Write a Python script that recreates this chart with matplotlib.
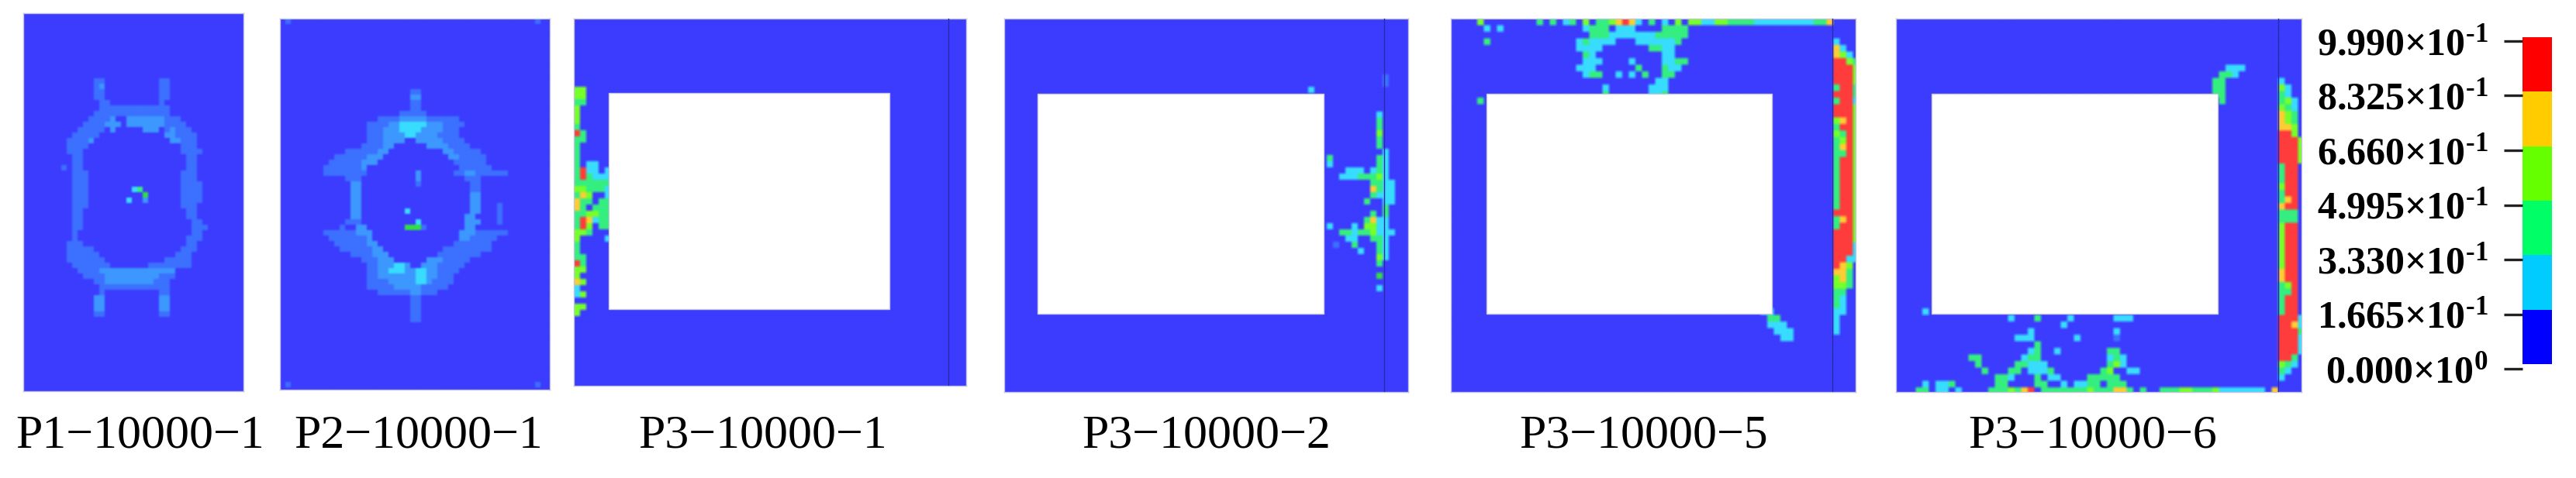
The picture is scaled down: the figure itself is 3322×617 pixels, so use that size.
import numpy as np
import matplotlib
matplotlib.use("Agg")
import matplotlib.pyplot as plt
from matplotlib.colors import ListedColormap, BoundaryNorm
from matplotlib.patches import Rectangle

plt.rcParams['font.family'] = ['Liberation Serif', 'DejaVu Serif']
plt.rcParams['mathtext.fontset'] = 'custom'
plt.rcParams['mathtext.rm'] = 'Liberation Serif:bold'
plt.rcParams['mathtext.it'] = 'Liberation Serif:bold'
plt.rcParams['mathtext.bf'] = 'Liberation Serif:bold'

# ---------- data ----------
F, P, C, G, L, O, R, D = 1, 2, 3, 4, 5, 6, 7, 8   # damage classes

panel_names = ['P1\u221210000\u22121', 'P2\u221210000\u22121', 'P3\u221210000\u22121',
               'P3\u221210000\u22122', 'P3\u221210000\u22125', 'P3\u221210000\u22126']

cbar_levels = [0.0, 0.1665, 0.333, 0.4995, 0.666, 0.8325, 0.999]
cbar_labels = [r'0.000×10$^{\text{0}}$', r'1.665×10$^{\text{-1}}$', r'3.330×10$^{\text{-1}}$',
               r'4.995×10$^{\text{-1}}$', r'6.660×10$^{\text{-1}}$', r'8.325×10$^{\text{-1}}$',
               r'9.990×10$^{\text{-1}}$']

# each run: (row, first column, last column, class)
p1_cells = [
    (12,13,14,F),(13,13,14,F),(13,14,14,P),(14,13,14,F),(15,13,14,F),(16,14,15,F),(17,14,15,F),
    (12,25,26,F),(13,25,26,F),(14,25,26,F),(15,25,26,F),(16,25,25,F),(17,14,26,F),
    (18,13,26,F),(19,12,15,F),(19,16,16,P),(19,19,25,P),(19,26,28,F),
    (20,11,14,F),(20,15,17,P),(20,19,25,P),(20,26,29,F),
    (21,10,14,F),(21,16,16,P),(21,22,24,P),(21,26,30,F),(21,27,27,P),
    (22,9,13,F),(22,26,27,P),(22,28,31,F),(23,8,11,F),(23,12,12,P),(23,27,28,P),(23,29,31,F),
    (24,8,11,F),(24,29,31,F),(25,8,10,F),(25,29,32,F),(26,9,10,F),(26,30,31,F),(27,9,10,F),(27,30,31,F),
    (28,7,7,F),(28,9,10,F),(28,30,31,F),(29,9,11,F),(29,29,31,F),(30,9,11,F),(30,29,31,F),
    (31,9,11,F),(31,29,32,F),(32,9,11,F),(32,29,32,F),(33,9,11,F),(33,29,32,F),(34,9,11,F),(34,29,32,F),
    (35,9,11,F),(35,29,31,F),(36,9,10,F),(36,30,31,F),(37,9,10,F),(37,30,31,F),(38,9,10,F),(38,31,32,F),
    (39,9,10,F),(39,31,33,F),(40,9,9,F),(40,31,32,F),(41,9,9,F),(41,30,31,F),(41,32,32,F),
    (42,8,10,F),(42,30,31,F),(43,8,12,F),(43,29,31,F),(44,8,13,F),(44,28,30,F),(45,8,14,F),(45,26,30,F),
    (46,9,15,F),(46,23,30,F),(47,10,13,F),(47,14,27,P),(48,11,14,F),(48,15,24,P),(48,25,27,F),
    (49,13,14,F),(49,15,23,P),(49,24,26,F),(50,14,26,F),
    (51,14,14,F),(51,25,26,F),(52,13,14,P),(52,25,26,P),(53,13,14,P),(53,25,26,P),(54,13,14,P),(54,25,26,P),(55,13,14,F),(55,25,26,F),
    (32,20,20,C),(32,21,21,G),(33,22,22,D),(34,22,22,P),(34,19,19,C),
]
p2_cells = [
    (0,1,1,F),(0,47,47,F),(67,1,1,F),(67,47,47,F),
    (13,24,25,F),(14,24,25,P),(15,24,25,F),(16,24,25,F),
    (17,22,26,F),(18,18,21,F),(18,22,26,P),(18,27,32,F),
    (19,16,19,F),(19,20,21,P),(19,22,26,C),(19,27,29,P),(19,30,33,F),
    (20,16,18,F),(20,19,21,P),(20,22,25,C),(20,26,29,P),(20,30,32,F),
    (21,16,18,F),(21,19,22,P),(21,23,24,C),(21,25,28,P),(21,29,32,F),
    (22,16,18,F),(22,19,22,P),(22,25,29,P),(22,30,33,F),
    (23,15,18,F),(23,19,20,P),(23,27,30,P),(23,31,34,F),
    (24,12,17,F),(24,18,19,P),(24,30,31,P),(24,32,36,F),
    (25,10,15,F),(25,16,18,P),(25,31,32,P),(25,33,37,F),
    (26,9,14,F),(26,15,17,P),(26,32,37,F),
    (27,8,14,F),(27,15,15,P),(27,33,38,F),
    (28,8,15,F),(28,32,33,F),(28,34,35,P),(28,36,41,F),
    (29,12,14,F),(29,34,36,F),(30,13,14,P),(30,35,36,F),(31,13,14,P),(31,35,36,F),
    (32,13,14,P),(32,35,36,P),(33,13,14,P),(33,35,36,P),(34,13,14,P),(34,35,36,P),(34,40,40,F),
    (35,13,14,P),(35,35,36,P),(35,40,40,F),(36,13,14,P),(36,34,35,P),(36,40,40,F),
    (37,12,14,F),(37,34,36,P),(37,40,40,F),(38,11,11,F),(38,14,15,P),(38,34,35,P),
    (39,8,13,F),(39,14,16,P),(39,33,35,P),(39,36,41,F),
    (40,9,15,F),(40,16,16,P),(40,33,34,P),(40,35,39,F),
    (41,10,15,F),(41,16,17,P),(41,32,38,F),
    (42,11,16,F),(42,17,18,P),(42,30,38,F),
    (43,13,16,F),(43,17,19,P),(43,29,36,F),
    (44,15,17,F),(44,18,20,P),(44,27,29,P),(44,30,34,F),
    (45,16,17,F),(45,18,20,P),(45,21,22,C),(45,23,23,P),(45,26,28,P),(45,29,33,F),
    (46,16,17,F),(46,18,19,P),(46,20,22,C),(46,23,24,P),(46,25,26,C),(46,27,28,P),(46,29,32,F),
    (47,16,17,F),(47,18,24,P),(47,25,26,C),(47,27,28,P),(47,29,31,F),
    (48,16,19,F),(48,20,24,P),(48,25,26,C),(48,27,27,P),(48,28,31,F),
    (49,16,20,F),(49,21,25,P),(49,26,30,F),
    (50,18,23,F),(50,24,25,P),(50,26,28,F),
    (51,24,25,F),(52,24,25,F),(53,24,25,F),(54,24,25,F),(55,24,25,F),
    (28,25,25,P),(29,25,25,P),(30,25,25,F),(35,23,23,C),(37,25,25,C),(38,23,24,D),(38,26,26,F),(38,25,25,D),
]
p31_cells = [
    (11,0,1,L),(12,0,1,L),(13,0,1,G),(14,0,0,L),(15,0,0,L),(16,0,0,L),(17,0,0,G),(18,0,0,R),(18,1,1,G),(19,0,1,G),
    (20,0,0,G),(21,0,0,G),(22,0,0,G),(23,0,0,G),(23,2,3,C),(24,0,0,G),(24,1,1,R),(24,2,3,C),(24,5,5,C),
    (25,0,0,G),(25,1,1,R),(25,2,2,G),(25,3,3,C),(25,4,5,C),(26,0,3,G),(26,4,5,G),(27,0,1,L),(27,2,4,G),(27,5,5,C),
    (28,0,0,G),(28,1,1,O),(28,2,2,L),(28,5,5,C),(29,0,0,O),(29,1,2,G),(29,4,5,G),(30,0,0,O),(30,1,1,G),(30,3,5,G),
    (31,0,1,G),(31,2,3,L),(31,4,5,G),(32,0,0,G),(32,1,1,R),(32,2,2,O),(32,3,3,C),(32,4,5,G),
    (33,0,0,G),(33,1,1,R),(33,2,2,L),(33,4,5,G),(34,0,1,L),(34,2,2,G),(35,0,0,L),(35,5,5,C),
    (36,0,0,G),(37,0,0,G),(38,0,1,G),(39,0,0,R),(39,1,1,G),(40,0,1,L),(41,0,0,L),(42,0,0,O),(42,1,1,L),
    (43,0,0,C),(44,0,0,C),(44,1,1,L),(46,0,1,L),(47,0,0,L),
]
p32_cells = [
    (9,61,61,F),(10,61,61,F),(11,49,49,C),
    (15,60,60,C),(16,60,60,G),(17,60,60,G),(18,60,60,L),(19,60,60,G),(20,60,60,G),
    (21,61,61,C),(22,52,52,G),(22,60,60,G),(22,61,61,C),(23,52,52,C),(23,60,60,G),(23,61,61,C),
    (24,55,57,C),(24,59,59,C),(24,60,60,G),(24,61,61,C),
    (25,54,56,C),(25,57,58,G),(25,59,59,G),(25,60,60,L),(25,61,61,C),
    (26,59,59,G),(26,60,60,G),(26,61,62,C),(27,59,59,O),(27,60,60,G),(27,61,62,C),
    (28,59,59,G),(28,60,60,C),(28,61,62,C),(29,58,58,G),(29,61,62,C),(30,61,61,G),
    (31,59,59,G),(31,61,61,G),(32,58,58,G),(32,59,59,O),(32,60,60,C),(32,61,61,C),
    (33,52,52,C),(33,56,56,C),(33,58,59,L),(33,60,60,C),(33,61,61,C),
    (34,54,55,G),(34,56,56,C),(34,57,58,G),(34,59,59,L),(34,60,60,C),(34,61,62,C),
    (35,55,56,C),(35,59,60,G),(35,61,61,C),(36,53,53,F),(36,56,56,G),(36,60,60,G),(36,61,61,C),
    (37,57,57,C),(37,60,60,G),(37,61,61,C),(38,60,60,L),(38,61,61,C),(39,60,60,G),(41,60,60,D),(43,60,60,C),
]
p35_cells = [
    (0,4,4,L),(0,13,13,G),(0,15,15,G),(0,17,17,C),(0,18,18,G),(0,20,20,L),(0,22,23,G),(0,24,24,L),(0,25,25,O),(0,26,26,R),(0,27,27,O),
    (0,28,28,C),(0,30,30,G),(0,32,32,C),(0,34,34,L),(0,36,37,L),(0,38,39,C),(0,40,41,L),(0,42,45,G),(0,46,51,C),(0,52,54,C),(0,55,56,G),(0,57,57,O),
    (1,5,5,C),(1,7,7,C),(1,20,20,C),(1,21,23,G),(1,25,27,C),(1,32,33,G),(1,34,35,G),
    (2,21,22,G),(2,23,23,G),(2,24,27,C),(2,28,30,C),(2,31,33,G),(2,34,35,G),
    (3,5,5,G),(3,19,19,C),(3,20,20,G),(3,21,24,C),(3,28,29,C),(3,30,33,C),(3,34,34,G),(3,58,58,C),
    (4,19,22,C),(4,30,31,G),(4,32,33,C),(4,58,58,O),(4,59,59,C),
    (5,20,20,G),(5,21,21,C),(5,32,33,C),(5,58,58,O),(5,59,59,L),(5,60,60,C),
    (6,20,22,C),(6,27,27,C),(6,32,33,C),(6,34,35,G),(6,58,59,R),(6,60,60,L),(6,61,61,G),
    (7,19,21,C),(7,28,28,G),(7,32,32,G),(7,33,34,C),(7,58,60,R),(7,61,61,L),
    (8,20,20,C),(8,21,22,G),(8,25,25,C),(8,27,27,C),(8,29,29,G),(8,32,33,G),(8,58,60,R),(8,61,61,L),
    (9,31,32,C),(9,58,58,R),(9,59,60,R),(9,61,61,L),
    (10,23,23,C),(10,30,32,C),(10,58,58,G),(10,59,60,R),(10,61,61,G),
    (11,23,23,G),(11,30,31,C),(11,32,32,G),(11,58,60,R),(11,61,61,G),
    (12,4,4,G),(12,58,58,G),(12,59,60,R),(12,61,61,C),
    (13,58,60,R),(13,61,61,L),(14,58,60,R),(14,61,61,L),
    (15,58,58,L),(15,59,59,O),(15,60,60,R),(15,61,61,L),(16,58,58,G),(16,59,60,R),(16,61,61,L),
    (17,58,58,L),(17,59,59,G),(17,60,60,R),(17,61,61,L),(18,58,58,G),(18,59,59,L),(18,60,60,R),(18,61,61,L),
    (19,58,58,G),(19,59,59,O),(19,60,60,R),(19,61,61,L),(20,58,58,G),(20,59,59,G),(20,60,60,R),(20,61,61,L),
    (21,58,58,G),(21,59,60,R),(21,61,61,L),(22,58,58,G),(22,59,60,R),(22,61,61,L),(23,58,58,G),(23,59,60,R),(23,61,61,L),
    (24,58,58,G),(24,59,60,R),(24,61,61,L),(25,58,58,G),(25,59,60,R),(25,61,61,L),(26,58,58,G),(26,59,60,R),(26,61,61,L),
    (27,58,58,G),(27,59,60,R),(27,61,61,L),(28,58,58,G),(28,59,60,R),(28,61,61,L),
    (29,58,60,R),(29,61,61,L),(30,58,58,G),(30,59,59,O),(30,60,60,R),(30,61,61,L),(31,58,58,G),(31,59,60,R),(31,61,61,L),
    (32,58,60,R),(32,61,61,L),(33,58,60,R),(33,61,61,L),(34,58,60,R),(34,61,61,C),(35,58,60,R),(35,61,61,C),
    (36,58,59,R),(36,60,60,C),(36,61,61,C),(37,58,58,R),(37,59,59,O),(37,60,60,L),(38,58,58,O),(38,59,59,O),(38,60,60,G),
    (39,58,58,L),(39,59,59,O),(39,60,60,G),(40,58,59,L),(40,60,60,G),(41,58,59,G),(42,58,58,G),(42,59,59,C),(43,58,58,G),(43,59,59,C),
    (44,47,48,C),(44,58,59,C),(45,48,49,G),(45,58,58,C),(46,48,50,C),(46,58,58,C),(47,49,51,C),(47,58,58,C),(48,50,51,C),
]
p36_cells = [
    (7,50,52,C),(8,49,50,G),(8,51,51,C),(9,48,49,G),(9,58,58,C),(10,48,49,G),(10,58,58,L),(10,59,59,C),
    (11,48,49,G),(11,58,58,G),(11,59,59,C),(12,49,49,G),(12,58,58,G),(12,59,59,L),(12,60,60,C),
    (13,58,58,L),(13,59,59,G),(13,60,60,C),(14,58,58,O),(14,59,59,L),(14,60,60,G),(15,58,58,O),(15,59,59,L),(15,60,60,G),
    (16,58,59,O),(16,60,60,L),(17,58,59,R),(17,60,60,L),
    (18,58,60,R),(18,61,61,L),(19,58,60,R),(19,61,61,L),(20,58,60,R),(20,61,61,L),(21,58,60,R),(21,61,61,L),
    (22,58,58,G),(22,59,60,R),(23,58,58,G),(23,59,60,R),(24,58,58,G),(24,59,60,R),(25,58,58,L),(25,59,60,R),(26,58,58,G),(26,59,60,R),
    (27,58,58,G),(27,59,59,O),(27,60,60,R),(28,58,58,O),(28,59,60,R),(29,58,60,G),(30,58,60,G),
    (31,58,58,L),(31,59,60,R),(32,58,58,L),(32,59,60,R),(33,58,58,L),(33,59,60,R),(34,58,58,L),(34,59,60,R),
    (35,58,58,L),(35,59,60,R),(36,58,58,L),(36,59,60,R),(37,58,58,L),(37,59,60,R),(38,58,58,O),(38,59,60,R),(39,58,58,O),(39,59,60,R),
    (40,58,58,G),(40,59,59,L),(40,60,60,R),(41,58,58,G),(41,59,59,G),(41,60,60,R),(42,58,58,G),(42,59,60,R),(43,58,58,G),(43,59,60,R),
    (44,4,4,C),(44,58,58,G),(44,59,60,R),
    (45,17,17,C),(45,21,21,G),(45,26,26,C),(45,33,35,C),(45,58,60,R),(45,61,61,C),
    (46,25,25,C),(46,58,59,R),(46,60,60,O),(46,61,61,C),
    (47,20,20,C),(47,33,33,C),(47,58,60,R),(47,61,61,G),
    (48,18,20,C),(48,27,27,C),(48,33,33,F),(48,58,60,R),(48,61,61,C),
    (49,21,21,G),(49,58,60,R),(49,61,61,C),
    (50,20,20,C),(50,21,21,G),(50,24,24,C),(50,32,33,G),(50,58,60,R),(50,61,61,C),
    (51,11,12,G),(51,19,19,C),(51,20,21,G),(51,32,32,C),(51,33,33,G),(51,34,34,C),(51,58,59,R),(51,60,60,G),
    (52,12,12,G),(52,18,19,G),(52,20,22,C),(52,32,32,G),(52,33,33,L),(52,34,34,C),(52,58,58,L),(52,59,59,G),(52,60,60,C),
    (53,13,13,G),(53,17,18,G),(53,20,22,C),(53,23,23,G),(53,31,31,G),(53,32,32,L),(53,35,36,C),(53,58,58,G),(53,59,59,C),
    (54,15,16,G),(54,17,17,C),(54,21,21,G),(54,23,24,C),(54,29,30,G),(54,31,33,G),(54,58,58,C),
    (55,4,4,C),(55,6,7,C),(55,8,8,G),(55,15,16,G),(55,21,22,G),(55,25,25,C),(55,27,28,C),(55,29,30,G),(55,32,34,G),
    (56,3,4,G),(56,6,7,C),(56,9,9,C),(56,14,16,G),(56,17,17,L),(56,18,18,G),(56,19,19,O),(56,20,20,R),(56,22,28,G),(56,29,29,L),
    (56,30,32,G),(56,33,34,O),(56,35,35,G),(56,37,37,G),(56,40,41,G),(56,42,42,G),(56,43,44,L),(56,45,47,G),(56,48,48,L),(56,49,53,C),(56,54,55,C),(56,57,57,O),
]
panel_cells = [p1_cells, p2_cells, p31_cells, p32_cells, p35_cells, p36_cells]

# ---------- style / layout (pixels of the 3322x617 canvas) ----------
W, H = 3322, 617
BLUE = '#3C3CFF'
class_colors = [BLUE, '#3C70FF', '#3C98FF', '#38DCFF', '#35EE80', '#77FF2A', '#FFCC33', '#FF3C3C', '#33DD44']
cbar_colors = ['#0000FF', '#00CCFF', '#00FF66', '#66FF00', '#FFCC00', '#FF0000']
cell_cmap = ListedColormap(class_colors)
cell_norm = BoundaryNorm(np.arange(-0.5, 9.5), 9)
UPSAMPLE = 2

# x0, x1, y0, y1, cell px, hole (x0,x1,y0,y1) or None, vertical line x or None, label centre x
layout = [
    (30, 314, 17, 505, 7.0, None, None, 181),
    (361, 709, 24, 503, 7.0, None, None, 540),
    (740, 1246, 24, 498, 8.0, (785, 1147, 120, 399), 1223, 984),
    (1295, 1816, 24, 506, 8.0, (1338, 1707, 121, 405), 1785, 1556),
    (1871, 2393, 24, 506, 8.5, (1917, 2285, 121, 405), 2363, 2120),
    (2445, 2968, 24, 506, 8.5, (2491, 2860, 121, 405), 2938, 2699),
]

def add_px_axes(fig, x0, x1, y0, y1):
    return fig.add_axes([x0 / W, 1 - y1 / H, (x1 - x0) / W, (y1 - y0) / H])

fig = plt.figure(figsize=(W / 100, H / 100), dpi=100, facecolor='white')

for name, cells, (x0, x1, y0, y1, cp, hole, vline, lx) in zip(panel_names, panel_cells, layout):
    ax = add_px_axes(fig, x0, x1, y0, y1)
    nx, ny = (x1 - x0) / cp, (y1 - y0) / cp
    grid = np.zeros((int(np.ceil(ny)) + 2, int(np.ceil(nx)) + 2), dtype=int)
    for r, c0, c1, lvl in cells:
        grid[r, c0:c1 + 1] = lvl
    grid = np.repeat(np.repeat(grid, UPSAMPLE, axis=0), UPSAMPLE, axis=1)
    ax.imshow(grid, cmap=cell_cmap, norm=cell_norm, origin='upper', aspect='auto',
              extent=(0, grid.shape[1] / UPSAMPLE, grid.shape[0] / UPSAMPLE, 0),
              interpolation='bilinear', interpolation_stage='rgba')
    ax.set_xlim(0, nx)
    ax.set_ylim(ny, 0)
    ax.set_xticks([]); ax.set_yticks([])
    for s in ax.spines.values():
        s.set_color('#C4C4DC'); s.set_linewidth(1.0)
    if hole:
        hx0, hx1, hy0, hy1 = hole
        ax.add_patch(Rectangle(((hx0 - x0) / cp, (hy0 - y0) / cp), (hx1 - hx0) / cp, (hy1 - hy0) / cp,
                               facecolor='white', edgecolor='#C8C8D8', linewidth=1.0, zorder=3))
    if vline:
        ax.axvline((vline - x0) / cp, color='#2A2AA8', linewidth=1.0, zorder=4)
    fig.text(lx / W, 1 - 563 / H, name, ha='center', va='center', fontsize=44.6, color='black')

# colour bar
cax = add_px_axes(fig, 3253, 3291, 48, 470)
cax.pcolormesh([0, 1], cbar_levels, np.arange(6).reshape(-1, 1),
               cmap=ListedColormap(cbar_colors), norm=BoundaryNorm(np.arange(-0.5, 6.5), 6))
cax.set_xticks([]); cax.set_yticks([])
for s in cax.spines.values():
    s.set_visible(False)

# tick ladder (sits slightly below the bar in the source)
tax = add_px_axes(fig, 3253, 3291, 53, 476)
tax.set_ylim(cbar_levels[0], cbar_levels[-1])
tax.patch.set_alpha(0)
tax.set_xticks([])
tax.set_yticks(cbar_levels)
tax.set_yticklabels(cbar_labels, fontsize=36, fontweight='bold')
tax.tick_params(axis='y', length=17, width=2.4, pad=15, color='#222222')
for s in tax.spines.values():
    s.set_visible(False)

fig.savefig('out.png', dpi=100, facecolor='white')
